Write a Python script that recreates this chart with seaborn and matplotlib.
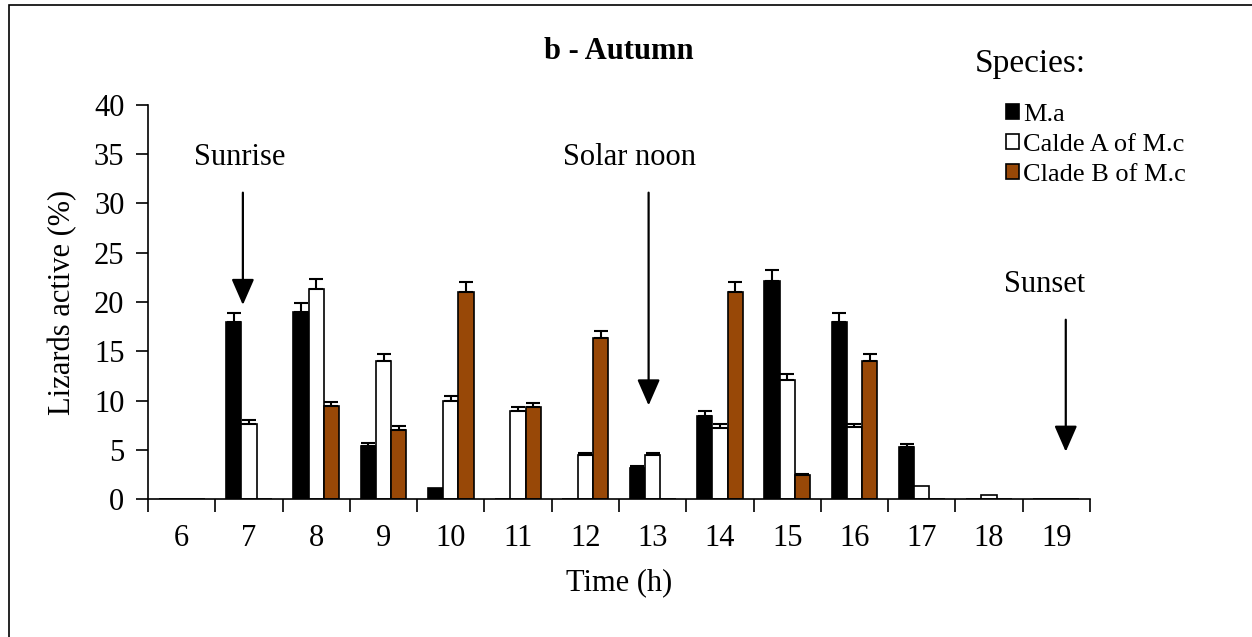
import matplotlib
matplotlib.use('Agg')
import matplotlib.pyplot as plt
import seaborn as sns
import pandas as pd
from matplotlib.patches import Rectangle, Patch

hours = ['6', '7', '8', '9', '10', '11', '12', '13', '14', '15', '16', '17', '18', '19']
species = ['M.a', 'Calde A of M.c', 'Clade B of M.c']

ma = [0, 18.0, 19.0, 5.4, 1.1, 0, 0, 3.1, 8.4, 22.1, 18.0, 5.3, 0, 0]
clade_a = [0, 7.6, 21.3, 14.0, 10.0, 8.9, 4.5, 4.5, 7.2, 12.1, 7.3, 1.3, 0.4, 0]
clade_b = [0, 0, 9.4, 7.0, 21.0, 9.3, 16.3, 0, 21.0, 2.4, 14.0, 0, 0, 0]

err_ma = [0, 0.9, 0.9, 0.3, 0, 0, 0, 0.2, 0.5, 1.1, 0.9, 0.3, 0, 0]
err_a = [0, 0.4, 1.0, 0.7, 0.5, 0.4, 0.2, 0.2, 0.4, 0.6, 0.3, 0, 0, 0]
err_b = [0, 0, 0.4, 0.4, 1.0, 0.4, 0.8, 0, 1.0, 0.1, 0.7, 0, 0, 0]

colors = ['black', 'white', '#984807']

df = pd.DataFrame({
    'hour': hours * 3,
    'species': [species[0]] * 14 + [species[1]] * 14 + [species[2]] * 14,
    'value': ma + clade_a + clade_b,
})

plt.rcParams['font.family'] = ['Liberation Serif', 'DejaVu Serif']

fig = plt.figure(figsize=(12.52, 6.37), dpi=100)
ax = fig.add_axes([148 / 1252, 138 / 637, 942 / 1252, 394 / 637])

sns.barplot(data=df, x='hour', y='value', hue='species', order=hours,
            hue_order=species, palette=colors, saturation=1, width=0.68,
            edgecolor='black', linewidth=1.2, legend=False, ax=ax)

# upper error bars only
for container, errs in zip(ax.containers, [err_ma, err_a, err_b]):
    for patch, e in zip(container.patches, errs):
        if e <= 0:
            continue
        xc = patch.get_x() + patch.get_width() / 2
        h = patch.get_height()
        ax.errorbar(xc, h, yerr=[[0], [e]], fmt='none', ecolor='black',
                    elinewidth=1.5, capsize=5, capthick=1.5)

ax.set_xlim(-0.5, len(hours) - 0.5)
ax.set_ylim(0, 40)
ax.set_yticks(range(0, 41, 5))
ax.set_xticks([i - 0.5 for i in range(len(hours) + 1)], minor=True)
ax.tick_params(axis='x', which='major', length=0, labelsize=22, pad=18)
ax.tick_params(axis='x', which='minor', length=9, width=1.2, direction='out')
ax.tick_params(axis='y', length=9, width=1.2, labelsize=22, pad=8)
ax.spines['top'].set_visible(False)
ax.spines['right'].set_visible(False)
ax.spines['left'].set_linewidth(1.2)
ax.spines['bottom'].set_linewidth(1.2)
ax.set_xlabel('Time (h)', fontsize=22, labelpad=11)
ax.set_ylabel('Lizards active (%)', fontsize=22, labelpad=12)
ax.set_title('b - Autumn', fontsize=22, fontweight='bold', pad=33)

# event arrows
arrow = dict(arrowstyle='-|>,head_width=0.35,head_length=0.8', color='black',
             lw=1.6, mutation_scale=20, shrinkA=0, shrinkB=0)
ax.annotate('', xy=(0.91, 19.7), xytext=(0.91, 31.1), arrowprops=arrow)
ax.annotate('', xy=(6.94, 9.5), xytext=(6.94, 31.1), arrowprops=arrow)
ax.annotate('', xy=(13.14, 4.8), xytext=(13.14, 18.2), arrowprops=arrow)
ax.text(0.87, 34.7, 'Sunrise', fontsize=22, ha='center', va='center')
ax.text(6.66, 34.7, 'Solar noon', fontsize=22, ha='center', va='center')
ax.text(12.83, 21.8, 'Sunset', fontsize=22, ha='center', va='center')

# legend
fig.text(975 / 1252, 1 - 64 / 637, 'Species:', fontsize=24, ha='left', va='center')
handles = [Patch(facecolor=c, edgecolor='black', linewidth=1.2) for c in colors]
fig.legend(handles, species, loc='upper left',
           bbox_to_anchor=(993 / 1252, 1 - 91 / 637), frameon=False,
           fontsize=19, handlelength=0.5, handleheight=0.5,
           handletextpad=0.15, labelspacing=0.3, borderpad=0)

# outer frame
fig.patches.append(Rectangle((9 / 1252, -0.1), 1.2, (637 - 5) / 637 + 0.1,
                             transform=fig.transFigure, fill=False,
                             edgecolor='black', linewidth=1.2, clip_on=False))

fig.savefig('out.png', dpi=100)
